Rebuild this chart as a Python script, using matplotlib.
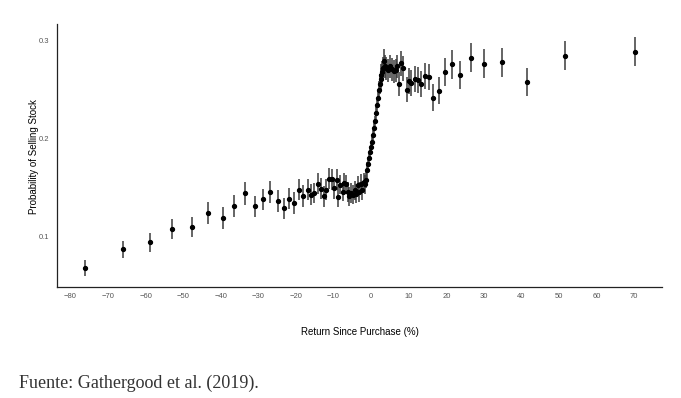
##############################################################################
# Probability of selling a stock vs return since purchase
##############################################################################

import numpy as np
import matplotlib.pyplot as plt

##############################################################################
# Data
##############################################################################

# return since purchase (%), bin centres
returns = [
    -76.2, -66.1, -58.9, -52.9, -47.7, -43.3, -39.5, -36.4, -33.5, -30.9,
    -28.7, -26.8, -24.9, -23.2, -21.8, -20.5, -19.1, -18.0, -16.9, -16.0,
    -15.1, -14.2, -13.3, -12.6, -11.9, -11.2, -10.5, -9.8, -9.2, -8.7,
    -8.2, -7.6, -7.2, -6.6, -6.2, -5.8, -5.3, -4.9, -4.4, -4.0,
    -3.5, -3.1, -2.7, -2.3, -1.95, -1.6, -1.25,
    -1.0, -0.75, -0.5, -0.25, 0.0, 0.25, 0.5, 0.75, 1.0, 1.25,
    1.5, 1.75, 2.0, 2.25, 2.5, 2.75, 3.0, 3.25, 3.5, 3.75,
    4.0, 4.5, 5.0, 5.5, 6.0, 6.5, 7.0, 7.5, 8.0, 8.5,
    9.5, 10.0, 10.7, 11.6, 12.4, 13.3, 14.4, 15.4, 16.6, 18.0,
    19.7, 21.5, 23.7, 26.7, 30.1, 34.8, 41.4, 51.5, 70.1,
]

# probability of selling stock
prob_sell = [
    0.0674, 0.0866, 0.0938, 0.1074, 0.1094, 0.1238, 0.1187, 0.1310, 0.1440, 0.1306,
    0.1378, 0.1453, 0.1361, 0.1286, 0.1385, 0.1340, 0.1477, 0.1412, 0.1477, 0.1426,
    0.1443, 0.1539, 0.1488, 0.1409, 0.1477, 0.1590, 0.1583, 0.1491, 0.1580, 0.1402,
    0.1529, 0.1457, 0.1549, 0.1532, 0.1453, 0.1409, 0.1443, 0.1426, 0.1470, 0.1436,
    0.1522, 0.1453, 0.1539, 0.1470, 0.1555, 0.1532, 0.1580,
    0.1680, 0.1740, 0.1800, 0.1860, 0.1910, 0.1970, 0.2040, 0.2110, 0.2180, 0.2260,
    0.2340, 0.2420, 0.2500, 0.2560, 0.2610, 0.2650, 0.2680, 0.2720, 0.2790, 0.2740,
    0.2720, 0.2700, 0.2740, 0.2710, 0.2690, 0.2700, 0.2740, 0.2560, 0.2770, 0.2720,
    0.2500, 0.2590, 0.2570, 0.2610, 0.2600, 0.2560, 0.2640, 0.2630, 0.2420, 0.2490,
    0.2680, 0.2760, 0.2650, 0.2830, 0.2765, 0.2780, 0.2580, 0.2850, 0.2890,
]

# half-width of the confidence interval
ci_half = [
    0.0080, 0.0090, 0.0095, 0.0100, 0.0105, 0.0110, 0.0110, 0.0110, 0.0115, 0.0110,
    0.0110, 0.0110, 0.0110, 0.0110, 0.0110, 0.0110, 0.0110, 0.0110, 0.0105, 0.0105,
    0.0105, 0.0105, 0.0105, 0.0105, 0.0105, 0.0105, 0.0105, 0.0105, 0.0105, 0.0105,
    0.0100, 0.0100, 0.0100, 0.0100, 0.0100, 0.0100, 0.0100, 0.0100, 0.0100, 0.0100,
    0.0100, 0.0100, 0.0100, 0.0100, 0.0095, 0.0095, 0.0090,
    0.0080, 0.0070, 0.0060, 0.0055, 0.0050, 0.0050, 0.0050, 0.0050, 0.0055, 0.0060,
    0.0070, 0.0080, 0.0090, 0.0100, 0.0110, 0.0115, 0.0120, 0.0120, 0.0125, 0.0120,
    0.0120, 0.0120, 0.0120, 0.0120, 0.0120, 0.0120, 0.0120, 0.0125, 0.0125, 0.0125,
    0.0130, 0.0130, 0.0130, 0.0130, 0.0130, 0.0135, 0.0135, 0.0135, 0.0140, 0.0140,
    0.0145, 0.0145, 0.0145, 0.0150, 0.0148, 0.0148, 0.0145, 0.0150, 0.0150,
]

x_ticks = [-80, -70, -60, -50, -40, -30, -20, -10, 0, 10, 20, 30, 40, 50, 60, 70]
y_ticks = [0.1, 0.2, 0.3]

##############################################################################
# Plot
##############################################################################

plt.rcParams["font.family"] = ["Liberation Sans", "DejaVu Sans"]

fig = plt.figure(figsize=(6.81, 3.98), dpi=100)
ax = fig.add_axes([57.3 / 681, (398 - 287.3) / 398, (662 - 57.3) / 681, (287.3 - 24.3) / 398])

ax.errorbar(returns, prob_sell, yerr=ci_half, fmt="o", color="black", ecolor="#3a3a3a",
            elinewidth=1.1, markersize=2.8, capsize=0, zorder=3)

ax.set_xlim(-83.5, 77.4)
ax.set_ylim(0.0477, 0.3171)
ax.set_xticks(x_ticks)
ax.set_yticks(y_ticks)
ax.set_yticklabels(["0.1", "0.2", "0.3"])

for side in ["top", "right"]:
    ax.spines[side].set_visible(False)
for side in ["left", "bottom"]:
    ax.spines[side].set_color("#222222")
    ax.spines[side].set_linewidth(0.9)

ax.tick_params(axis="x", length=0, pad=4.0, labelsize=5.5, labelcolor="#555555")
ax.tick_params(axis="y", length=0, pad=6.0, labelsize=5.5, labelcolor="#555555")

ax.set_xlabel("Return Since Purchase (%)", fontsize=7, color="black", va="center")
ax.xaxis.set_label_coords(0.5006, (287.3 - 331.7) / 263)
ax.set_ylabel("Probability of Selling Stock", fontsize=7, color="black", va="center")
ax.yaxis.set_label_coords((34 - 57.3) / 604.7, 0.499)

# source note under the chart
fig.text(19 / 681, 1 - 383 / 398, "Fuente: Gathergood et al. (2019).",
         family=["Liberation Serif", "DejaVu Serif"], fontsize=13,
         color="#333333", ha="left", va="center")

fig.savefig("out.png", dpi=100, facecolor="white")
